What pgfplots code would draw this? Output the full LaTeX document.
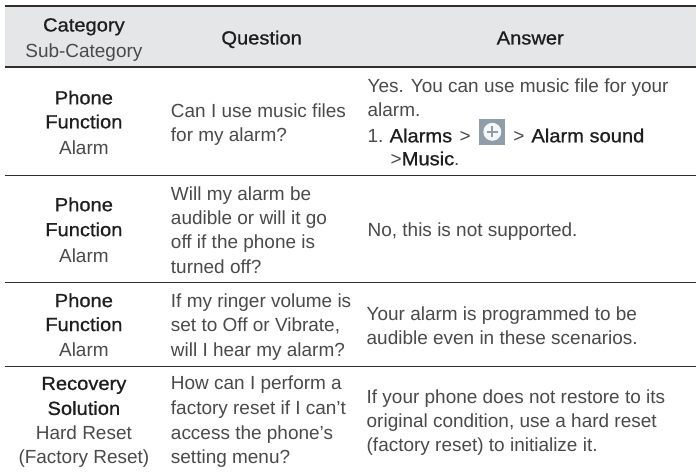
\documentclass[border=0pt]{standalone}
\usepackage{pgfplots}
\pgfplotsset{compat=1.18}
\usepackage{fontspec}
\setmainfont{Liberation Sans}
\newfontfamily\med[FakeBold=0.8,FakeStretch=1.06]{Liberation Sans}
\definecolor{hdr}{HTML}{E4E6E8}
\definecolor{rule}{HTML}{2E2E2E}
\definecolor{lt}{HTML}{4A4A4A}
\definecolor{dk}{HTML}{1E1E1E}
\definecolor{ico}{HTML}{8E9DAA}
\newcommand{\fs}{\fontsize{19}{22}\selectfont}
\newcommand{\C}[3]{\node[anchor=base,text=#3,inner sep=0pt,yshift=-1.5pt] at (axis cs:#1) {\fs #2};}
\newcommand{\Lft}[2]{\node[anchor=base west,text=lt,inner sep=0pt,yshift=-1.5pt] at (axis cs:#1) {\fs #2};}
\begin{document}
\begin{tikzpicture}
\begin{axis}[scale only axis,width=697pt,height=475pt,xmin=0,xmax=697,ymin=0,ymax=475,y dir=reverse,axis lines=none,clip=false]
\addplot[fill=white,draw=none] coordinates {(0,0) (697,0) (697,475) (0,475)} --cycle;
\addplot[fill=hdr,draw=none] coordinates {(5,7) (697,7) (697,66) (5,66)} --cycle;
\addplot[rule,line width=2pt] coordinates {(5,6) (697,6)};
\addplot[rule,line width=2pt] coordinates {(5,67) (697,67)};
\addplot[rule,line width=1pt] coordinates {(5,176) (697,176)};
\addplot[rule,line width=1pt] coordinates {(5,283) (697,283)};
\addplot[rule,line width=1pt] coordinates {(5,367) (697,367)};
\C{84,30}{\med Category}{dk}
\C{84,56}{Sub-Category}{lt}
\C{262,43}{\med Question}{dk}
\C{531,43}{\med Answer}{dk}
\C{84,103}{\med Phone}{dk}
\C{84,127}{\med Function}{dk}
\C{84,153}{Alarm}{lt}
\C{84,210}{\med Phone}{dk}
\C{84,235}{\med Function}{dk}
\C{84,261}{Alarm}{lt}
\C{84,306}{\med Phone}{dk}
\C{84,330}{\med Function}{dk}
\C{84,356}{Alarm}{lt}
\C{84,389}{\med Recovery}{dk}
\C{84,414}{\med Solution}{dk}
\C{84,439}{Hard Reset}{lt}
\C{84,463}{(Factory Reset)}{lt}
\Lft{171,116}{Can I use music files}
\Lft{171,140}{for my alarm?}
\Lft{171,199}{Will my alarm be}
\Lft{171,223}{audible or will it go}
\Lft{171,247}{off if the phone is}
\Lft{171,272}{turned off?}
\Lft{171,306}{If my ringer volume is}
\Lft{171,330}{set to Off or Vibrate,}
\Lft{171,356}{will I hear my alarm?}
\Lft{171,389}{How can I perform a}
\Lft{171,414}{factory reset if I can't}
\Lft{171,439}{access the phone's}
\Lft{171,463}{setting menu?}
\Lft{368,91}{Yes. You can use music file for your}
\Lft{368,115}{alarm.}
\Lft{368,141}{1.}
\Lft{390,141}{\med\color{dk}Alarms}
\Lft{460,141}{>}
\Lft{514,141}{>}
\Lft{532,141}{\med\color{dk}Alarm sound}
\Lft{391,164}{>{\med\color{dk}Music}.}
\Lft{368,235}{No, this is not supported.}
\Lft{367,319}{Your alarm is programmed to be}
\Lft{367,343}{audible even in these scenarios.}
\Lft{367,403}{If your phone does not restore to its}
\Lft{367,427}{original condition, use a hard reset}
\Lft{367,451}{(factory reset) to initialize it.}
\addplot[fill=ico,draw=none] coordinates {(480,119) (506,119) (506,145) (480,145)} --cycle;
\fill[white!92!ico] (axis cs:493,132) circle[radius=9pt];
\draw[ico,line width=2pt] (axis cs:487.5,132) -- (axis cs:498.5,132) (axis cs:493,126.5) -- (axis cs:493,137.5);
\end{axis}
\end{tikzpicture}
\end{document}
